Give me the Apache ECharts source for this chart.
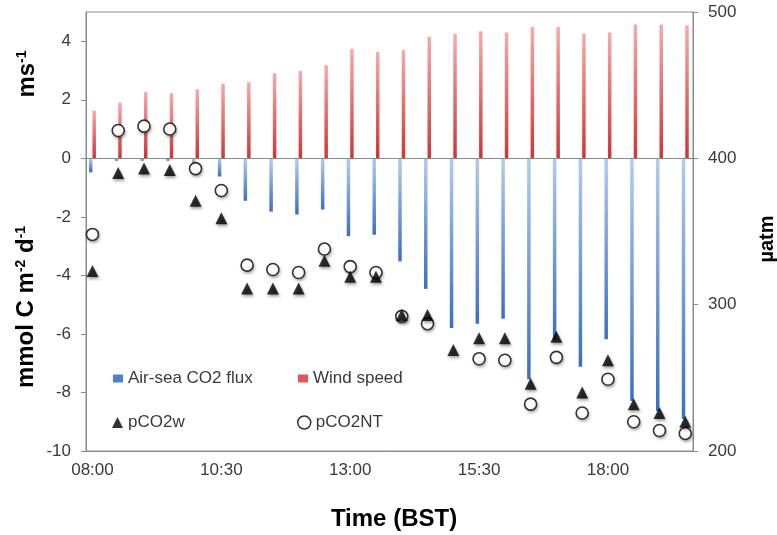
<!DOCTYPE html>
<html>
<head>
<meta charset="utf-8">
<script src="https://cdn.jsdelivr.net/npm/echarts@6/dist/echarts.min.js"></script>
<style>
html,body{margin:0;padding:0;background:#fff;}
#chart{width:777px;height:535px;}
</style>
</head>
<body>
<div id="chart"></div>
<script>
// ---- data ----
var times = ['08:00','08:30','09:00','09:30','10:00','10:30','11:00','11:30','12:00','12:30','13:00','13:30',
             '14:00','14:30','15:00','15:30','16:00','16:30','17:00','17:30','18:00','18:30','19:00','19:30'];
var xTickLabels = ['08:00','10:30','13:00','15:30','18:00'];
var flux = [-0.48,-0.08,-0.08,-0.08,-0.35,-0.62,-1.45,-1.82,-1.92,-1.75,-2.66,-2.61,
            -3.52,-4.46,-5.80,-5.65,-5.48,-7.55,-6.22,-7.12,-6.18,-8.29,-8.63,-8.91];
var wind = [1.63,1.90,2.27,2.23,2.36,2.55,2.60,2.91,2.99,3.18,3.74,3.64,
            3.70,4.15,4.25,4.34,4.30,4.49,4.49,4.25,4.30,4.57,4.57,4.54];
var pco2w = [323,390,393,392,371,359,311,311,311,330,319,319,
             293,293,269,277,277,246,278,240,262,232,226,220];
var pco2nt = [348,419,422,420,393,378,327,324,322,338,326,322,
              292,287,null,263,262,232,264,226,249,220,214,212];
var leftTicks = [-10,-8,-6,-4,-2,0,2,4];

// ---- helpers ----
function toMin(s){var p=s.split(':');return (+p[0])*60+(+p[1]);}
function fmt(v){var h=Math.floor(v/60),m=Math.round(v-h*60);return (h<10?'0':'')+h+':'+(m<10?'0':'')+m;}
function pairs(arr){return arr.map(function(v,i){return [toMin(times[i]), v];});}

var FONT = '"Liberation Sans", Arial, sans-serif';
var axisGray = '#8a8a8a';
var labelColor = '#3a3a3a';
var shadow = {shadowColor:'rgba(0,0,0,0.45)',shadowBlur:3,shadowOffsetX:1,shadowOffsetY:2};
var noShadow = {shadowBlur:0,shadowOffsetX:0,shadowOffsetY:0,shadowColor:'transparent'};
var legendText = {fontSize:17,color:labelColor,fontFamily:FONT};

var chart = echarts.init(document.getElementById('chart'), null, {renderer:'canvas'});
var option = {
  backgroundColor:'#fff',
  animation:false,
  textStyle:{fontFamily:FONT},
  grid:{left:86,right:84,top:12,bottom:84,show:true,borderColor:axisGray,borderWidth:1,backgroundColor:'transparent'},
  xAxis:{
    type:'value', min:472.5, max:1179,
    axisLine:{show:true,onZero:false,lineStyle:{color:axisGray}},
    axisTick:{show:false},
    splitLine:{show:false},
    axisLabel:{customValues:xTickLabels.map(toMin),formatter:function(v){return fmt(v);},
      fontSize:17,color:labelColor,margin:11,fontFamily:FONT}
  },
  yAxis:[{
    type:'value', min:-10, max:5,
    axisLine:{show:true,lineStyle:{color:axisGray}},
    axisTick:{show:true,inside:false,length:5,lineStyle:{color:axisGray},customValues:leftTicks},
    splitLine:{show:false},
    axisLabel:{customValues:leftTicks,fontSize:17,color:labelColor,margin:15,fontFamily:FONT}
  },{
    type:'value', min:200, max:500, interval:100, position:'right',
    axisLine:{show:true,lineStyle:{color:axisGray}},
    axisTick:{show:true,inside:false,length:5,lineStyle:{color:axisGray}},
    splitLine:{show:false},
    axisLabel:{fontSize:17,color:labelColor,margin:15,fontFamily:FONT}
  }],
  legend:[
    {data:[{name:'Air-sea CO2 flux',icon:'rect',itemStyle:{color:'#4f81c8'}}],left:113,top:370,padding:0,itemWidth:10,itemHeight:8,
      textStyle:legendText,selectedMode:false},
    {data:[{name:'Wind speed',icon:'rect',itemStyle:{color:'#e05656'}}],left:298,top:370,padding:0,itemWidth:10,itemHeight:8,
      textStyle:legendText,selectedMode:false},
    {data:[{name:'pCO2w',icon:'triangle',itemStyle:Object.assign({color:'#000'},noShadow)}],left:112,top:414,padding:0,itemWidth:11,itemHeight:11,
      textStyle:legendText,selectedMode:false},
    {data:[{name:'pCO2NT',icon:'circle',itemStyle:Object.assign({color:'#fff',borderColor:'#000',borderWidth:1.5},noShadow)}],left:297,top:414,padding:0,itemWidth:13,itemHeight:13,
      textStyle:legendText,selectedMode:false}
  ],
  series:[{
    name:'Air-sea CO2 flux', type:'bar', xAxisIndex:0, yAxisIndex:0,
    data:pairs(flux), barWidth:3.5, barGap:0,
    itemStyle:{color:new echarts.graphic.LinearGradient(0,0,0,1,[{offset:0,color:'#b3cbed'},{offset:1,color:'#3a6fc2'}])},
    markLine:{silent:true,symbol:'none',label:{show:false},
      lineStyle:{color:axisGray,type:'solid',width:1},data:[{yAxis:0}]},
    z:2
  },{
    name:'Wind speed', type:'bar', xAxisIndex:0, yAxisIndex:0,
    data:pairs(wind), barWidth:3.5, barGap:0,
    itemStyle:{color:new echarts.graphic.LinearGradient(0,0,0,1,[{offset:0,color:'#f7aaaa'},{offset:1,color:'#d03434'}])},
    z:2
  },{
    name:'pCO2NT-shadow', type:'scatter', xAxisIndex:0, yAxisIndex:1, silent:true,
    data:pairs(pco2nt), symbol:'circle', symbolSize:13,
    itemStyle:Object.assign({color:'#fff'},shadow), z:3
  },{
    name:'pCO2NT', type:'scatter', xAxisIndex:0, yAxisIndex:1,
    data:pairs(pco2nt), symbol:'circle', symbolSize:12,
    itemStyle:Object.assign({color:'#fff',borderColor:'#000',borderWidth:1.6},noShadow), z:3
  },{
    name:'pCO2w', type:'scatter', xAxisIndex:0, yAxisIndex:1,
    data:pairs(pco2w), symbol:'triangle', symbolSize:12,
    itemStyle:Object.assign({color:'#000'},shadow), z:4
  }],
  graphic:[
    {type:'text',x:27,y:74,rotation:Math.PI/2,
      style:{text:'{m|ms}{s|-1}',align:'center',verticalAlign:'middle',
        rich:{m:{fontSize:24,fontWeight:'bold',fontFamily:FONT,fill:'#000'},
              s:{fontSize:14,fontWeight:'bold',fontFamily:FONT,fill:'#000',verticalAlign:'top'}}}},
    {type:'text',x:26,y:307,rotation:Math.PI/2,
      style:{text:'{m|mmol C m}{s|-2}{m| d}{s|-1}',align:'center',verticalAlign:'middle',
        rich:{m:{fontSize:24,fontWeight:'bold',fontFamily:FONT,fill:'#000'},
              s:{fontSize:14,fontWeight:'bold',fontFamily:FONT,fill:'#000',verticalAlign:'top'}}}},
    {type:'text',x:767,y:239,rotation:Math.PI/2,
      style:{text:'µatm',align:'center',verticalAlign:'middle',fontSize:20,fontWeight:'bold',fontFamily:FONT,fill:'#000'}},
    {type:'text',x:394,y:519,
      style:{text:'Time (BST)',align:'center',verticalAlign:'middle',fontSize:24,fontWeight:'bold',fontFamily:FONT,fill:'#000'}}
  ]
};
chart.setOption(option);
</script>
</body>
</html>
